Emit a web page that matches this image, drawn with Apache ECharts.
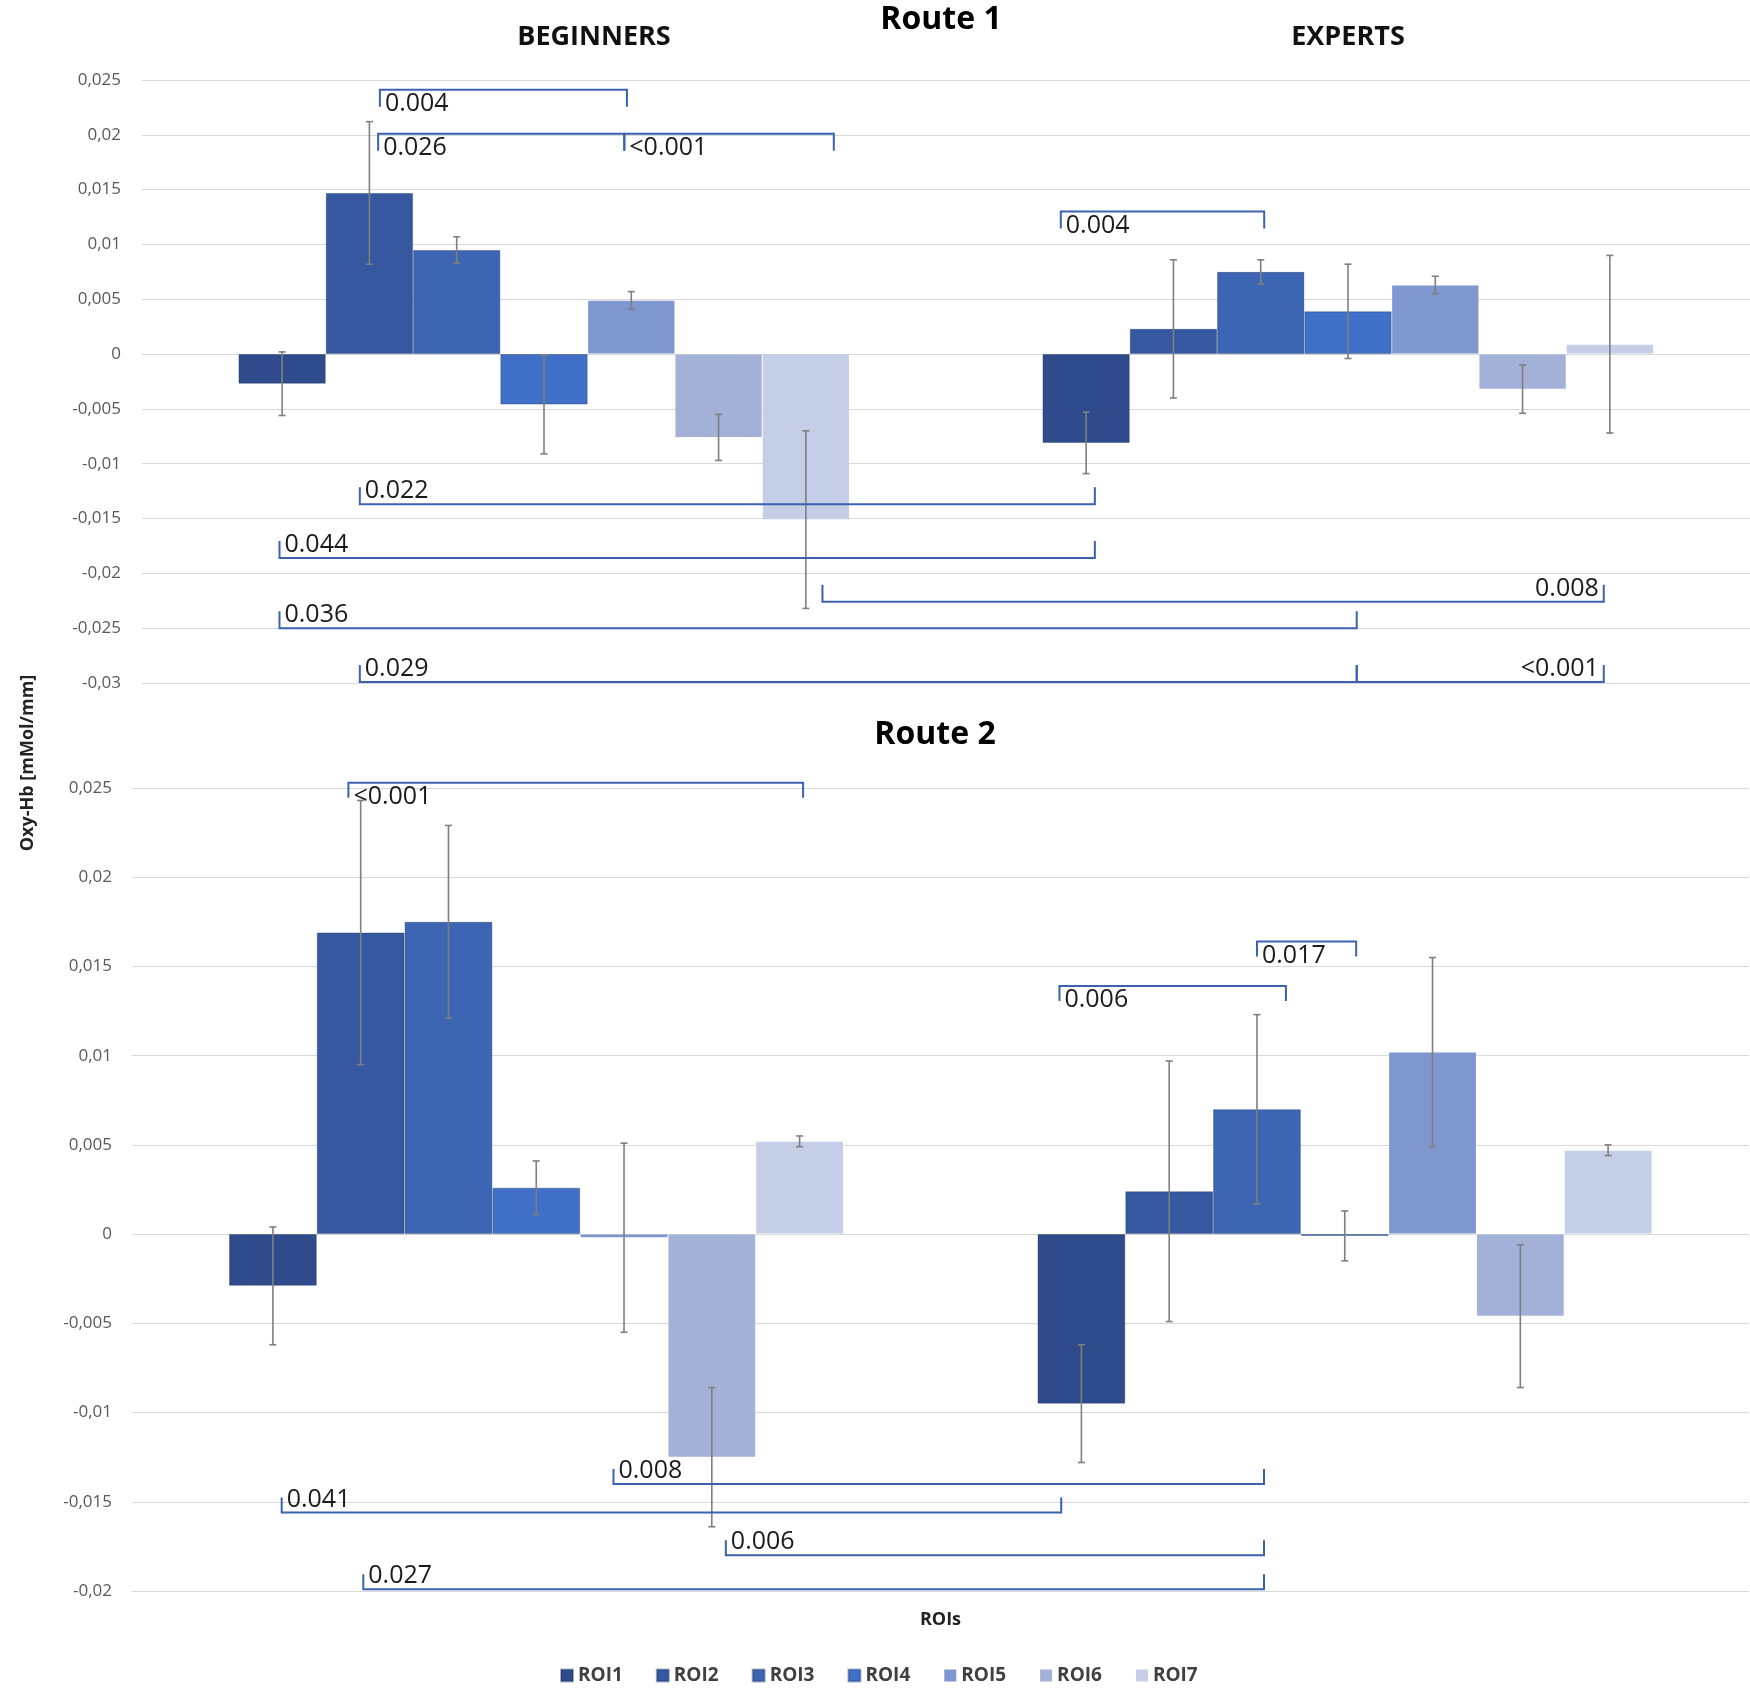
<!DOCTYPE html>
<html>
<head>
<meta charset="utf-8">
<script src="https://cdn.jsdelivr.net/npm/echarts@6/dist/echarts.min.js"></script>
<style>
html,body{margin:0;padding:0;background:#fff;}
#chart{width:1750px;height:1704px;}
</style>
</head>
<body>
<div id="chart"></div>
<script>
// ---------- data ----------
const categories = ['BEGINNERS', 'EXPERTS'];
const roiNames = ['ROI1', 'ROI2', 'ROI3', 'ROI4', 'ROI5', 'ROI6', 'ROI7'];
const roiColors = ['#2F4B8B', '#3558A0', '#3C66B4', '#4070C8', '#7F97CF', '#A3B1D9', '#C4CEE7'];

const route1Beginners    = [-0.0027, 0.0147, 0.0095, -0.0046, 0.0049, -0.0076, -0.0151];
const route1BeginnersErr = [ 0.0029, 0.0065, 0.0012,  0.0045, 0.0008,  0.0021,  0.0081];
const route1Experts      = [-0.0081, 0.0023, 0.0075,  0.0039, 0.0063, -0.0032,  0.0009];
const route1ExpertsErr   = [ 0.0028, 0.0063, 0.0011,  0.0043, 0.0008,  0.0022,  0.0081];

const route2Beginners    = [-0.0029, 0.0169, 0.0175,  0.0026, -0.0002, -0.0125, 0.0052];
const route2BeginnersErr = [ 0.0033, 0.0074, 0.0054,  0.0015,  0.0053,  0.0039, 0.0003];
const route2Experts      = [-0.0095, 0.0024, 0.0070, -0.0001,  0.0102, -0.0046, 0.0047];
const route2ExpertsErr   = [ 0.0033, 0.0073, 0.0053,  0.0014,  0.0053,  0.0040, 0.0003];

// significance brackets: from/to = [group index, ROI position], y = value, dir = opening side
const route1Brackets = [
  {from:[0, 1.12], to:[0, 3.95], y: 0.0241, dir:'down', text:'0.004',  align:'left'},
  {from:[0, 1.10], to:[0, 3.92], y: 0.0201, dir:'down', text:'0.026',  align:'left'},
  {from:[0, 3.92], to:[0, 6.32], y: 0.0201, dir:'down', text:'<0.001', align:'left'},
  {from:[1,-0.29], to:[1, 2.04], y: 0.0130, dir:'down', text:'0.004',  align:'left'},
  {from:[0, 0.89], to:[1, 0.10], y:-0.0137, dir:'up',   text:'0.022',  align:'left'},
  {from:[0,-0.03], to:[1, 0.10], y:-0.0186, dir:'up',   text:'0.044',  align:'left'},
  {from:[0, 6.19], to:[1, 5.93], y:-0.0226, dir:'up',   text:'0.008',  align:'right'},
  {from:[0,-0.03], to:[1, 3.10], y:-0.0250, dir:'up',   text:'0.036',  align:'left'},
  {from:[0, 0.89], to:[1, 3.10], y:-0.0299, dir:'up',   text:'0.029',  align:'left'},
  {from:[1, 3.10], to:[1, 5.93], y:-0.0299, dir:'up',   text:'<0.001', align:'right'}
];
const route2Brackets = [
  {from:[0, 0.86], to:[0, 6.04], y: 0.0253, dir:'down', text:'<0.001', align:'left'},
  {from:[1, 2.00], to:[1, 3.13], y: 0.0164, dir:'down', text:'0.017',  align:'left'},
  {from:[1,-0.25], to:[1, 2.33], y: 0.0139, dir:'down', text:'0.006',  align:'left'},
  {from:[0, 3.88], to:[1, 2.08], y:-0.0140, dir:'up',   text:'0.008',  align:'left'},
  {from:[0, 0.10], to:[1,-0.23], y:-0.0156, dir:'up',   text:'0.041',  align:'left'},
  {from:[0, 5.16], to:[1, 2.08], y:-0.0180, dir:'up',   text:'0.006',  align:'left'},
  {from:[0, 1.03], to:[1, 2.08], y:-0.0199, dir:'up',   text:'0.027',  align:'left'}
];

// ---------- helpers ----------
const GAP = 0.24;
const FONT = '"Open Sans", "Noto Sans", sans-serif';
function fmt(v) {
  const r = Math.round(v * 1000) / 1000;
  if (r === 0) return '0';
  return String(r).replace('.', ',');
}
function barX(api, g, p) {
  const bandW = api.size([1, 0])[0];
  const bw = bandW * (1 - GAP) / roiNames.length;
  return api.coord([g, 0])[0] + (p - (roiNames.length - 1) / 2) * bw;
}
function errorSeries(idx, beg, begErr, exp, expErr) {
  const data = [];
  roiNames.forEach((n, r) => {
    data.push([0, r, beg[r], begErr[r]]);
    data.push([1, r, exp[r], expErr[r]]);
  });
  return {
    type: 'custom', xAxisIndex: idx, yAxisIndex: idx, z: 5, silent: true,
    encode: {x: 0, y: 2},
    data: data,
    renderItem: function (params, api) {
      const g = api.value(0), r = api.value(1), v = api.value(2), e = api.value(3);
      const x = barX(api, g, r);
      const y1 = api.coord([g, v + e])[1];
      const y2 = api.coord([g, v - e])[1];
      const c = 3.5;
      const st = {stroke: '#7F7F7F', lineWidth: 1.6};
      return {type: 'group', children: [
        {type: 'line', shape: {x1: x, y1: y1, x2: x, y2: y2}, style: st},
        {type: 'line', shape: {x1: x - c, y1: y1, x2: x + c, y2: y1}, style: st},
        {type: 'line', shape: {x1: x - c, y1: y2, x2: x + c, y2: y2}, style: st}
      ]};
    }
  };
}
function bracketSeries(idx, list, tick) {
  return {
    type: 'custom', xAxisIndex: idx, yAxisIndex: idx, z: 6, silent: true,
    encode: {x: 0, y: 1},
    data: list.map(b => [0, b.y]),
    renderItem: function (params, api) {
      const b = list[params.dataIndex];
      const x1 = barX(api, b.from[0], b.from[1]);
      const x2 = barX(api, b.to[0], b.to[1]);
      const y = api.coord([0, b.y])[1];
      const t = b.dir === 'down' ? tick : -tick;
      const ty = b.dir === 'down' ? y + 14 : y - 13;
      return {type: 'group', children: [
        {type: 'polyline', shape: {points: [[x1, y + t], [x1, y], [x2, y], [x2, y + t]]},
         style: {stroke: '#3B62B0', lineWidth: 2, fill: null}},
        {type: 'text', x: b.align === 'left' ? x1 + 5 : x2 - 5, y: ty,
         style: {text: b.text, textAlign: b.align, textVerticalAlign: 'middle',
                 font: '25px ' + FONT, fill: '#1a1a1a'}}
      ]};
    }
  };
}
function barSeries(idx, beg, exp) {
  return roiNames.map((n, r) => ({
    name: n, type: 'bar', xAxisIndex: idx, yAxisIndex: idx,
    barGap: '0%', barCategoryGap: (GAP * 100) + '%',
    itemStyle: {color: roiColors[r], borderColor: r < 4 ? 'rgba(20,40,90,0.35)' : 'rgba(0,0,0,0)', borderWidth: 1},
    data: [beg[r], exp[r]]
  }));
}

// ---------- chart ----------
const chart = echarts.init(document.getElementById('chart'));
const yAxisBase = {
  type: 'value', interval: 0.005,
  axisLine: {show: false}, axisTick: {show: false},
  splitLine: {lineStyle: {color: '#D9D9D9', width: 1.2}},
  axisLabel: {formatter: fmt, color: '#595959', fontFamily: FONT, fontSize: 17, margin: 21}
};
const option = {
  backgroundColor: '#ffffff',
  animation: false,
  grid: [
    {left: 142, top: 80, width: 1608, height: 603},
    {left: 132, top: 788, width: 1617, height: 803}
  ],
  xAxis: [
    {type: 'category', gridIndex: 0, data: categories, position: 'top',
     axisLine: {show: false, onZero: false}, axisTick: {show: false},
     axisLabel: {margin: 29, formatter: (v, i) => i === 0 ? '{a|' + v + '}' : '{b|' + v + '}',
       rich: {
         a: {fontFamily: FONT, fontWeight: 'bold', fontSize: 27, color: '#111', padding: [0, 0, 0, 100]},
         b: {fontFamily: FONT, fontWeight: 'bold', fontSize: 27, color: '#111'}
       }}},
    {type: 'category', gridIndex: 1, data: categories,
     axisLine: {show: false, onZero: false}, axisTick: {show: false}, axisLabel: {show: false},
     name: 'ROIs', nameLocation: 'middle', nameGap: 20,
     nameTextStyle: {fontFamily: FONT, fontWeight: 'bold', fontSize: 18, color: '#222'}}
  ],
  yAxis: [
    Object.assign({}, yAxisBase, {gridIndex: 0, min: -0.03, max: 0.025}),
    Object.assign({}, yAxisBase, {gridIndex: 1, min: -0.02, max: 0.025,
      axisLabel: Object.assign({}, yAxisBase.axisLabel, {margin: 20})})
  ],
  legend: {
    data: roiNames, left: 555, top: 1661, itemWidth: 12, itemHeight: 12, itemGap: 33,
    icon: 'rect',
    textStyle: {fontFamily: FONT, fontWeight: 'bold', fontSize: 19, color: '#404040'}
  },
  graphic: [
    {type: 'text', x: 941, y: 20, style: {text: 'Route 1', textAlign: 'center', textVerticalAlign: 'middle',
      font: 'bold 32px ' + FONT, fill: '#000'}},
    {type: 'text', x: 935, y: 735, style: {text: 'Route 2', textAlign: 'center', textVerticalAlign: 'middle',
      font: 'bold 32px ' + FONT, fill: '#000'}},
    {type: 'text', x: 28, y: 763, rotation: Math.PI / 2, style: {text: 'Oxy-Hb [mMol/mm]', textAlign: 'center',
      textVerticalAlign: 'middle', font: 'bold 18px ' + FONT, fill: '#222'}}
  ],
  series: [].concat(
    barSeries(0, route1Beginners, route1Experts),
    barSeries(1, route2Beginners, route2Experts),
    [errorSeries(0, route1Beginners, route1BeginnersErr, route1Experts, route1ExpertsErr),
     errorSeries(1, route2Beginners, route2BeginnersErr, route2Experts, route2ExpertsErr),
     bracketSeries(0, route1Brackets, 17),
     bracketSeries(1, route2Brackets, 15)]
  )
};
chart.setOption(option);
</script>
</body>
</html>
